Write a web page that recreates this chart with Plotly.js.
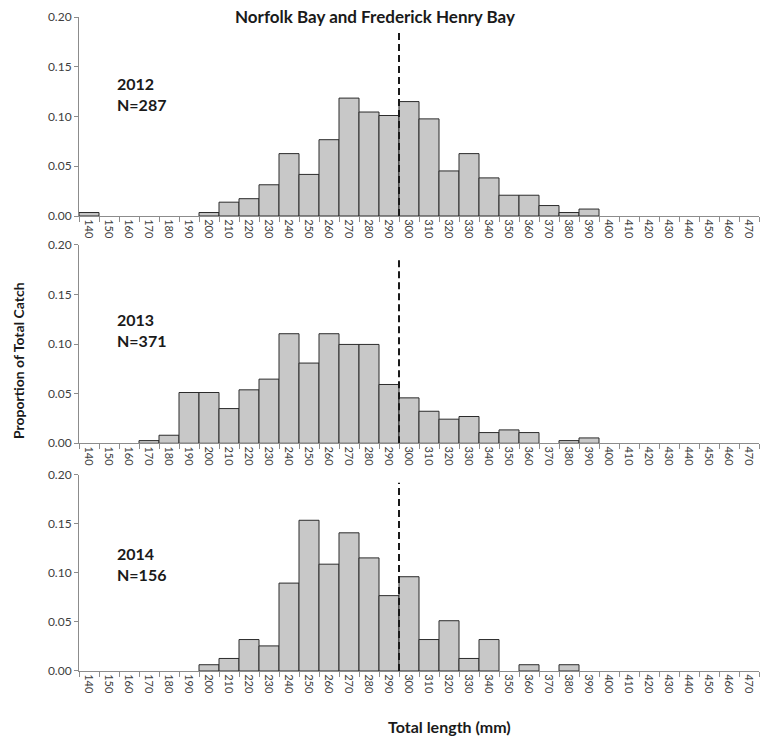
<!DOCTYPE html>
<html>
<head>
<meta charset="utf-8">
<script src="https://cdn.plot.ly/plotly-3.0.1.min.js"></script>
<style>html,body{margin:0;padding:0;background:#fff;}#chart{width:760px;height:738px;}</style>
</head>
<body>
<div id="chart"></div>
<script>
// Length bins (mm) used as category tick labels
const categories = ['140','150','160','170','180','190','200','210','220','230','240','250','260','270','280','290','300','310','320','330','340','350','360','370','380','390','400','410','420','430','440','450','460','470'];

// Proportion of total catch per bin
const y2012 = [0.0035,null,null,null,null,null,0.0035,0.0139,0.0174,0.0314,0.0627,0.0418,0.0767,0.1185,0.1045,0.1010,0.1150,0.0976,0.0453,0.0627,0.0383,0.0209,0.0209,0.0105,0.0035,0.0070,null,null,null,null,null,null,null,null];
const y2013 = [null,null,null,0.0027,0.0081,0.0512,0.0512,0.0350,0.0539,0.0647,0.1105,0.0809,0.1105,0.0997,0.0997,0.0593,0.0458,0.0323,0.0243,0.0270,0.0108,0.0135,0.0108,null,0.0027,0.0054,null,null,null,null,null,null,null,null];
const y2014 = [null,null,null,null,null,null,0.0064,0.0128,0.0321,0.0256,0.0897,0.1538,0.1090,0.1410,0.1154,0.0769,0.0962,0.0321,0.0513,0.0128,0.0321,null,0.0064,null,0.0064,null,null,null,null,null,null,null,null,null];

const years = ['2012','2013','2014'];
const sampleSizes = ['N=287','N=371','N=156'];
const limitBin = '300';          // dashed line at the lower edge of this bin
const limitTops = [0.184, 0.185, 0.192];

const FONT = 'Lato, "Open Sans", sans-serif';
const series = [y2012, y2013, y2014];
const axisSuffix = ['', '2', '3'];
const domains = [[0.6957, 1], [0.3482, 0.6514], [0, 0.2997]];
const labelY = [0.8823, 0.5214, 0.1636];

const traces = series.map((ys, i) => ({
  type: 'bar',
  x: categories,
  y: ys,
  xaxis: 'x' + axisSuffix[i],
  yaxis: 'y' + axisSuffix[i],
  width: 1,
  marker: {color: '#c8c8c8', line: {color: '#2b2b2b', width: 1}},
  hoverinfo: 'x+y',
  showlegend: false
}));

const layout = {
  width: 760, height: 738,
  margin: {l: 79, r: 1, t: 17, b: 67},
  paper_bgcolor: '#fff', plot_bgcolor: '#fff',
  font: {family: FONT, color: '#404040'},
  bargap: 0,
  shapes: [],
  annotations: []
};

const limitIdx = categories.indexOf(limitBin) - 0.5;

for (let i = 0; i < 3; i++) {
  const s = axisSuffix[i];
  layout['xaxis' + s] = {
    type: 'category',
    categoryorder: 'array',
    categoryarray: categories,
    anchor: 'y' + s,
    domain: [0, 1],
    range: [-0.5, categories.length - 0.5],
    showline: true, linecolor: '#8c8c8c', linewidth: 1,
    ticks: 'outside', tickson: 'boundaries', ticklen: 5, tickcolor: '#8c8c8c',
    tickangle: 90,
    tickfont: {family: FONT, size: 11, color: '#404040'},
    showgrid: false, zeroline: false, fixedrange: true
  };
  layout['yaxis' + s] = {
    anchor: 'x' + s,
    domain: domains[i],
    range: [0, 0.2],
    dtick: 0.05,
    tickformat: '.2f',
    showline: true, linecolor: '#8c8c8c', linewidth: 1,
    ticks: 'outside', ticklen: 4, tickcolor: '#8c8c8c',
    tickfont: {family: FONT, size: 12, color: '#404040'},
    showgrid: false, zeroline: false, fixedrange: true
  };
  layout.shapes.push({
    type: 'line', xref: 'x' + s, yref: 'y' + s,
    x0: limitIdx, x1: limitIdx, y0: 0, y1: limitTops[i],
    line: {color: '#1a1a1a', width: 2, dash: '7px,4px'}
  });
  layout.annotations.push({
    xref: 'paper', yref: 'paper', x: 0.053, y: labelY[i],
    xanchor: 'left', yanchor: 'middle', align: 'left', showarrow: false,
    text: '<b>' + years[i] + '</b><br><b>' + sampleSizes[i] + '</b>',
    font: {family: FONT, size: 16, color: '#1a1a1a'}
  });
}

layout.annotations.push({
  xref: 'paper', yref: 'paper', x: 0.4347, y: 1.0015,
  xanchor: 'center', yanchor: 'middle', showarrow: false,
  text: '<b>Norfolk Bay and Frederick Henry Bay</b>',
  font: {family: FONT, size: 17, color: '#1a1a1a'}
});
layout.annotations.push({
  xref: 'paper', yref: 'paper', x: -0.0896, y: 0.474,
  xanchor: 'center', yanchor: 'middle', showarrow: false, textangle: -90,
  text: '<b>Proportion of Total Catch</b>',
  font: {family: FONT, size: 14, color: '#1a1a1a'}
});
layout.annotations.push({
  xref: 'paper', yref: 'paper', x: 0.5448, y: -0.0856,
  xanchor: 'center', yanchor: 'middle', showarrow: false,
  text: '<b>Total length (mm)</b>',
  font: {family: FONT, size: 16, color: '#1a1a1a'}
});

Plotly.newPlot('chart', traces, layout, {displayModeBar: false, staticPlot: true});
</script>
</body>
</html>
